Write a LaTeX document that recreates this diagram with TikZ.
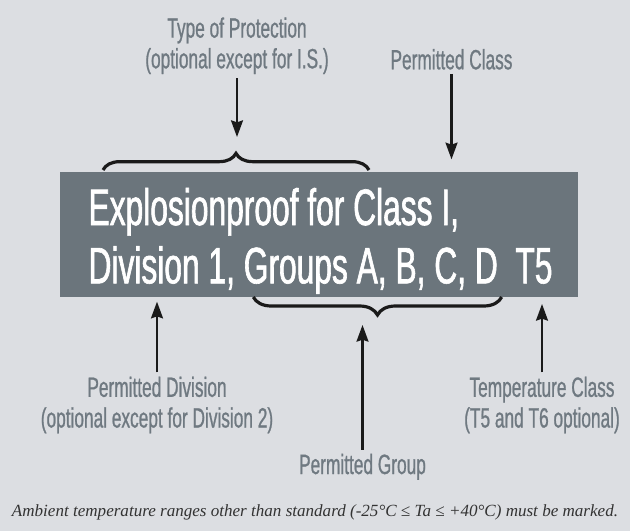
\documentclass[tikz,border=0pt]{standalone}
\usepackage{fontspec}
\usetikzlibrary{arrows.meta,decorations.pathreplacing}
\newfontfamily\platefont[FakeStretch=0.62,FakeBold=1.2]{Liberation Sans}
\newfontfamily\calloutfont[FakeStretch=0.62,FakeBold=0.8]{Liberation Sans}
\newfontfamily\notefont{Liberation Serif}
\definecolor{bggray}{RGB}{220,222,226}
\definecolor{plategray}{RGB}{107,117,124}
\definecolor{labelgray}{RGB}{111,121,129}
\definecolor{inkblack}{RGB}{26,26,26}
\definecolor{notegray}{RGB}{51,51,51}
\begin{document}
\begin{tikzpicture}[x=0.75pt,y=-0.75pt,
    plate/.style={fill=plategray,draw=none,minimum width=388.7pt,minimum height=93.75pt,inner sep=0pt},
    plateline/.style={text=white,font=\platefont\fontsize{38.4}{44}\selectfont,anchor=base west,inner sep=0pt},
    callout/.style={text=labelgray,font=\calloutfont\fontsize{20.9}{23}\selectfont,align=center,anchor=base,inner sep=3pt},
    pointer/.style={draw=inkblack,line width=1.6pt,-{Stealth[length=12.5pt,width=9pt,inset=1.5pt]}},
    bracket/.style={draw=inkblack,line width=2.4pt,decorate,decoration={brace,amplitude=#1}}]
  \useasboundingbox (0,0) rectangle (630,531);
  \fill[bggray] (0,0) rectangle (630,531);
  \node[plate] (plate) at (319.2,234.2) {};
  \node[plateline] (line1) at (88.3,225) {Explosionproof for Class I,};
  \node[plateline] (line2) at (88.3,283.3) {Division 1, Groups A, B, C, D\ \ T5};
  \node[callout] (protect) at (237,68.3) {Type of Protection\\(optional except for I.S.)};
  \node[callout] (pclass) at (451.5,69.3) {Permitted Class};
  \node[callout] (pdiv) at (157,427.5) {Permitted Division\\(optional except for Division 2)};
  \node[callout] (tclass) at (542,427.5) {Temperature Class\\(T5 and T6 optional)};
  \node[callout] (pgroup) at (362.5,474) {Permitted Group};
  \node[text=notegray,font=\notefont\itshape\fontsize{12.8}{14}\selectfont,anchor=base] (note) at (315,516)
    {Ambient temperature ranges other than standard (-25°C ≤ Ta ≤ +40°C) must be marked.};
  \coordinate (tb1) at (103,170);
  \coordinate (tb2) at (369,170);
  \coordinate (bb1) at (501.7,297);
  \coordinate (bb2) at (253.3,297);
  \coordinate (protecttip) at (237,137);
  \coordinate (pclasstip) at (451.5,159.3);
  \coordinate (pdivtip) at (157,301.7);
  \coordinate (tclasstip) at (542,304);
  \coordinate (pgrouptip) at (362.5,325);
  \begin{scope}
    \draw[bracket=12.5pt] (tb1) -- (tb2);
    \draw[bracket=13.5pt] (bb1) -- (bb2);
    \draw[pointer] (protect) -- (protecttip);
    \draw[pointer] (pclass) -- (pclasstip);
    \draw[pointer] (pdiv) -- (pdivtip);
    \draw[pointer] (tclass) -- (tclasstip);
    \draw[pointer] (pgroup) -- (pgrouptip);
  \end{scope}
\end{tikzpicture}
\end{document}
